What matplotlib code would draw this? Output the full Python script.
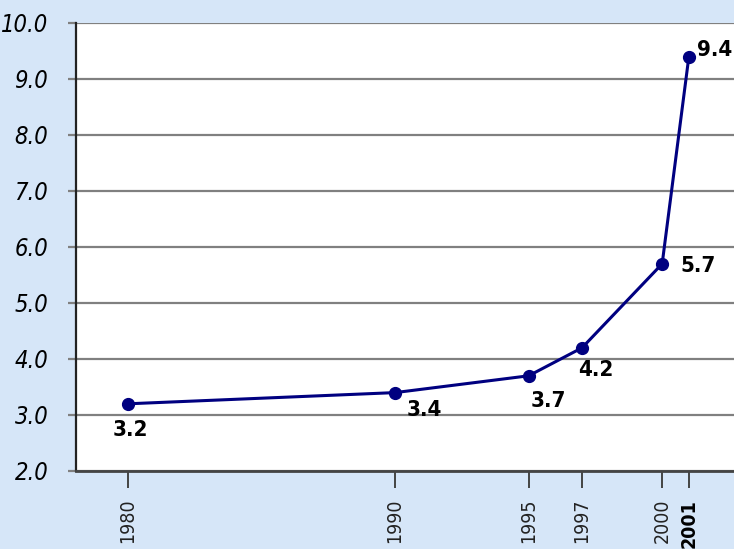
import matplotlib.pyplot as plt

# Dados
anos = [1980, 1990, 1995, 1997, 2000, 2001]
valores = [3.2, 3.4, 3.7, 4.2, 5.7, 9.4]
rotulos = ['3.2', '3.4', '3.7', '4.2', '5.7', '9.4']
y_ticks = [2.0, 3.0, 4.0, 5.0, 6.0, 7.0, 8.0, 9.0, 10.0]

# deslocamento dos rótulos (pixels) e alinhamento
offsets = [(2, -26), (12, -17), (2, -25), (-4, -22), (18, -2), (8, 7)]
aligns = ['center', 'left', 'left', 'left', 'left', 'left']

fig = plt.figure(figsize=(7.34, 5.49), dpi=100, facecolor='#d6e6f8')
ax = fig.add_axes([76 / 734, 78 / 549, 1 - 76 / 734, (471 - 23) / 549])
ax.set_facecolor('white')

ax.plot(anos, valores, color='#000080', lw=2.2, marker='o', ms=8.5, zorder=3)

for x, y, t, off, ha in zip(anos, valores, rotulos, offsets, aligns):
    ax.annotate(t, (x, y), xytext=off, textcoords='offset pixels',
                ha=ha, va='center', fontsize=16, fontweight='bold',
                family='DejaVu Sans', stretch='condensed', color='black')

ax.set_xlim(1978.05, 2002.69)
ax.set_ylim(2.0, 10.0)
ax.set_yticks(y_ticks)
ax.set_yticklabels([f'{v:.1f}' for v in y_ticks], fontsize=17, style='italic',
                   family='DejaVu Sans', stretch='condensed')
ax.set_xticks(anos)
ax.set_xticklabels([str(a) for a in anos], rotation=90, fontsize=14,
                   family='DejaVu Sans', stretch='condensed', color='#222222')
ax.get_xticklabels()[-1].set_fontweight('bold')
ax.get_xticklabels()[-1].set_color('black')

ax.grid(axis='y', color='#808080', lw=1.6)
ax.tick_params(axis='y', length=6, width=1.6, color='#808080', pad=14)
ax.tick_params(axis='x', length=12, width=1.4, color='#444444', pad=8)
for s in ['top', 'right']:
    ax.spines[s].set_visible(False)
ax.spines['left'].set_color('#222222')
ax.spines['left'].set_linewidth(1.6)
ax.spines['bottom'].set_color('#444444')
ax.spines['bottom'].set_linewidth(2)

fig.savefig('out.png', dpi=100, facecolor=fig.get_facecolor())
